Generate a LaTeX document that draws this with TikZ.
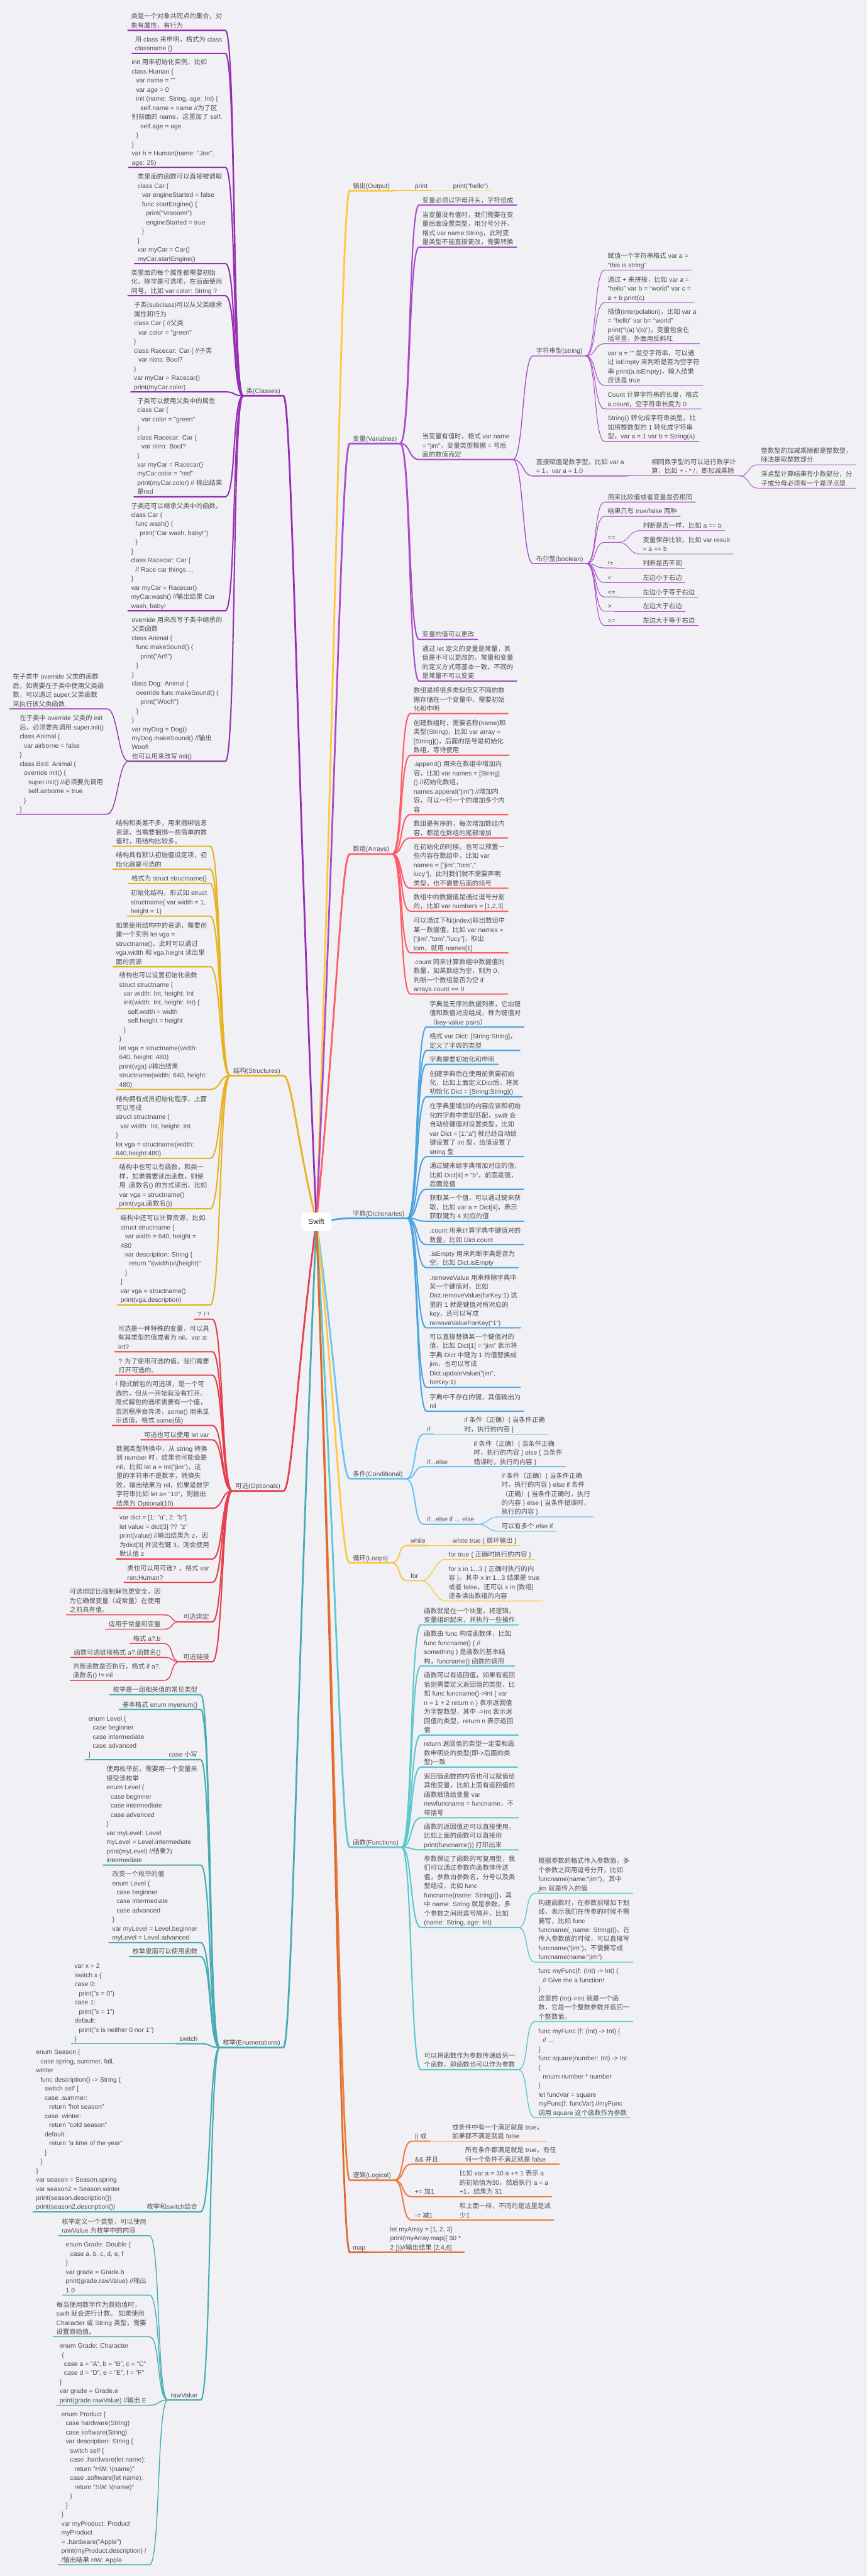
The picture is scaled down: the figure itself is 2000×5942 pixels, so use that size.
\documentclass[tikz,border=0pt]{standalone}
\usepackage{fontspec}
\setmainfont{Liberation Sans}
\newfontfamily\cjkfont{Noto Sans CJK SC}
% CJK characters switch to the CJK font
\newXeTeXintercharclass\cjkcls
\newcommand{\setcjkrange}[2]{\count255=#1\relax
  \loop\XeTeXcharclass\count255=\cjkcls\relax
  \ifnum\count255<#2\relax\advance\count255 by 1\repeat}
\setcjkrange{"3000}{"303F}
\setcjkrange{"4E00}{"9FFF}
\setcjkrange{"FF00}{"FFEF}
\XeTeXinterchartoks 0 \cjkcls={\cjkfont}
\XeTeXinterchartoks 4095 \cjkcls={\cjkfont}
\XeTeXinterchartoks \cjkcls 0={\normalfont}
\XeTeXinterchartoks \cjkcls 4095={\normalfont}
\XeTeXinterchartokenstate=1
\usetikzlibrary{calc}
\definecolor{bgpaper}{RGB}{240,240,245}
\definecolor{ink}{RGB}{78,78,84}
\definecolor{cClass}{RGB}{150,45,178}
\definecolor{cStruct}{RGB}{230,178,30}
\definecolor{cOpt}{RGB}{230,62,76}
\definecolor{cEnum}{RGB}{70,172,178}
\definecolor{cOut}{RGB}{255,200,60}
\definecolor{cVar}{RGB}{170,75,200}
\definecolor{cArr}{RGB}{255,92,104}
\definecolor{cDict}{RGB}{75,165,225}
\definecolor{cCond}{RGB}{110,195,245}
\definecolor{cLoop}{RGB}{255,200,60}
\definecolor{cFunc}{RGB}{92,200,206}
\definecolor{cLogic}{RGB}{238,125,60}
\definecolor{cMap}{RGB}{222,105,45}
\pgfdeclarelayer{paper}
\pgfdeclarelayer{links}
\pgfsetlayers{paper,links,main}
\newcommand{\swI}{\hspace*{2mm}}
\newcommand{\swtext}{\fontsize{8.54}{11.95}\selectfont}
\newcommand{\swhub}{\fontsize{9.7}{12}\selectfont}
% child links: curve to the child, then along its underline
\newcommand{\rlink}[3][lv2]{\draw[#1] (#2.south east) .. controls +(25,0) and +(-25,0) .. (#3.south west) -- (#3.south east);}
\newcommand{\llink}[3][lv2]{\draw[#1] (#2.south west) .. controls +(-25,0) and +(25,0) .. (#3.south east) -- (#3.south west);}
% trunks from the hub
\newcommand{\rtrunk}[1]{\draw[lv1] let \p1=(swift.center), \p2=(#1.south west) in
  (\p1) .. controls ({\x1+0.6*(\x2-\x1)},{\y1+0.55*(\y2-\y1)}) and ({\x2-0.25*(\x2-\x1)},\y2) .. (\p2) -- (#1.south east);}
\newcommand{\ltrunk}[1]{\draw[lv1] let \p1=(swift.center), \p2=(#1.south east) in
  (\p1) .. controls ({\x1+0.6*(\x2-\x1)},{\y1+0.55*(\y2-\y1)}) and ({\x2-0.25*(\x2-\x1)},\y2) .. (\p2) -- (#1.south west);}

\begin{document}
\begin{tikzpicture}[x=0.2mm, y=-0.2mm,
    every node/.style={font=\swtext, text=ink, align=left, inner xsep=1.4mm, inner ysep=0.7mm, text depth=0.4mm},
    rn/.style={anchor=south west},
    ln/.style={anchor=south east},
    lv1/.style={draw=br, line width=0.8mm, line cap=round},
    lv2/.style={draw=br, line width=0.6mm, line cap=round},
    lv3/.style={draw=br, line width=0.4mm, line cap=round},
    lv4/.style={draw=br, line width=0.3mm, line cap=round},
    lv5/.style={draw=br, line width=0.25mm, line cap=round},
    hub/.style={fill=white, rounded corners=1.6mm, minimum width=14mm, minimum height=8.4mm, font=\swhub, text=black!85, align=center}]

\begin{pgfonlayer}{paper}
  \fill[bgpaper] (0,0) rectangle (2000,5942);
\end{pgfonlayer}
\useasboundingbox (0,0) rectangle (2000,5942);

\node[hub] (swift) at (730,2818) {Swift};

% ---------- classes
\begin{scope}
  \colorlet{br}{cClass}
  \node[ln] (cls) at (654,913) {类(Classes)};
  \begin{pgfonlayer}{links}\ltrunk{cls}\end{pgfonlayer}
  \node[ln] (cl1) at (520,70) {类是一个对象共同点的集合，对\\象有属性，有行为};
  \node[ln] (cl2) at (520,123) {用 class 来申明，格式为 class\\classname \{\}};
  \node[ln] (cl3) at (520,386) {init 用来初始化实例，比如\\class Human \{\\\swI var name = ""\\\swI var age = 0\\\swI init (name: String, age: Int) \{\\\swI\swI self.name = name //为了区\\别前面的 name，这里加了 self.\\\swI\swI self.age = age\\\swI \}\\\}\\var h = Human(name: "Joe",\\age: 25)};
  \node[ln] (cl4) at (520,608) {类里面的函数可以直接被调取\\class Car \{\\\swI var engineStarted = false\\\swI func startEngine() \{\\\swI\swI print("Vrooom!")\\\swI\swI engineStarted = true\\\swI \}\\\}\\var myCar = Car()\\myCar.startEngine()};
  \node[ln] (cl5) at (520,682) {类里面的每个属性都需要初始\\化，除非是可选项，在后面使用\\问号，比如 var color: String ?};
  \node[ln] (cl6) at (520,904) {子类(subclass)可以从父类继承\\属性和行为\\class Car \{ //父类\\\swI var color = "green"\\\}\\class Racecar: Car \{ //子类\\\swI var nitro: Bool?\\\}\\var myCar = Racecar()\\print(myCar.color)};
  \node[ln] (cl7) at (520,1146) {子类可以使用父类中的属性\\class Car \{\\\swI var color = "green"\\\}\\class Racecar: Car \{\\\swI var nitro: Bool?\\\}\\var myCar = Racecar()\\myCar.color = "red"\\print(myCar.color) // 输出结果\\是red};
  \node[ln] (cl8) at (520,1409) {子类还可以继承父类中的函数。\\class Car \{\\\swI func wash() \{\\\swI\swI print("Car wash, baby!")\\\swI \}\\\}\\class Racecar: Car \{\\\swI // Race car things ...\\\}\\var myCar = Racecar()\\myCar.wash() //输出结果 Car\\wash, baby!};
  \node[ln] (cl9) at (520,1756) {override 用来改写子类中继承的\\父类函数\\class Animal \{\\\swI func makeSound() \{\\\swI\swI print("Arf!")\\\swI \}\\\}\\class Dog: Animal \{\\\swI override func makeSound() \{\\\swI\swI print("Woof!")\\\swI \}\\\}\\var myDog = Dog()\\myDog.makeSound() //输出\\Woof!\\也可以用来改写 init()};
  \node[ln] (cl9a) at (247,1635) {在子类中 override 父类的函数\\后，如需要在子类中使用父类函\\数，可以通过 super.父类函数\\来执行该父类函数};
  \node[ln] (cl9b) at (247,1878) {在子类中 override 父类的 init\\后，必须要先调用 super.init()\\class Animal \{\\\swI var airborne = false\\\}\\class Bird: Animal \{\\\swI override init() \{\\\swI\swI super.init() //必须要先调用\\\swI\swI self.airborne = true\\\swI \}\\\}};
  \foreach \c in {cl1,cl2,cl3,cl4,cl5,cl6,cl7,cl8,cl9} {\llink{cls}{\c}}
  \llink[lv3]{cl9}{cl9a} \llink[lv3]{cl9}{cl9b}
\end{scope}

% ---------- structures
\begin{scope}
  \colorlet{br}{cStruct}
  \node[ln] (stc) at (654,2481) {结构(Structures)};
  \begin{pgfonlayer}{links}\ltrunk{stc}\end{pgfonlayer}
  \node[ln] (st1) at (485,1952) {结构和类差不多，用来捆绑信息\\资源，当需要捆绑一些简单的数\\值时，用结构比较多。};
  \node[ln] (st2) at (485,2005) {结构具有默认初始值设定项，初\\始化器是可选的};
  \node[ln] (st3) at (485,2038) {格式为 struct structname\{\}};
  \node[ln] (st4) at (485,2113) {初始化结构，形式如 struct\\structname\{ var width = 1,\\height = 1\}};
  \node[ln] (st5) at (485,2230) {如果使用结构中的资源，需要创\\建一个实例 let vga =\\structname()，此时可以通过\\vga.width 和 vga.height 读出里\\面的资源};
  \node[ln] (st6) at (485,2513) {结构也可以设置初始化函数\\struct structname \{\\\swI var width: Int, height: Int\\\swI init(width: Int, height: Int) \{\\\swI\swI self.width = width\\\swI\swI self.height = height\\\swI \}\\\}\\let vga = structname(width:\\640, height: 480)\\print(vga) //输出结果\\structname(width: 640, height:\\480)};
  \node[ln] (st7) at (485,2672) {结构拥有成员初始化程序，上面\\可以写成\\struct structname \{\\\swI var width: Int, height: Int\\\}\\let vga = structname(width:\\640,height:480)};
  \node[ln] (st8) at (485,2788) {结构中也可以有函数，和类一\\样，如果需要读出函数，则使\\用 .函数名() 的方式读出，比如\\var vga = structname()\\print(vga.函数名())};
  \node[ln] (st9) at (485,3010) {结构中还可以计算资源，比如.\\struct structname \{\\\swI var width = 640, height =\\480\\\swI var description: String \{\\\swI\swI return "\textbackslash(width)x\textbackslash(height)"\\\swI \}\\\}\\var vga = structname()\\print(vga.description)};
  \foreach \c in {st1,st2,st3,st4,st5,st6,st7,st8,st9} {\llink{stc}{\c}}
\end{scope}

% ---------- optionals
\begin{scope}
  \colorlet{br}{cOpt}
  \node[ln] (opt) at (654,3439) {可选(Optionals)};
  \begin{pgfonlayer}{links}\ltrunk{opt}\end{pgfonlayer}
  \node[ln] (op1) at (490,3043) {? / !};
  \node[ln] (op2) at (490,3118) {可选是一种特殊的变量，可以具\\有其类型的值或者为 nil。var a:\\Int?};
  \node[ln] (op3) at (490,3172) {? 为了使用可选的值，我们需要\\打开可选的。};
  \node[ln] (op4) at (490,3288) {! 隐式解包的可选项，是一个可\\选的，但从一开始就没有打开。\\隐式解包的选项需要有一个值，\\否则程序会奔溃，some() 用来显\\示该值，格式 some(值)};
  \node[ln] (op5) at (490,3321) {可选也可以使用 let var};
  \node[ln] (op6) at (490,3479) {数据类型转换中，从 string 转换\\到 number 时，结果也可能会是\\nil，比如 let a = Int(“jim”)，这\\里的字符串不是数字，转换失\\败，输出结果为 nil，如果是数字\\字符串比如 let a= “10”，则输出\\结果为 Optional(10)};
  \node[ln] (op7) at (490,3596) {var dict = [1: "a", 2: "b"]\\let value = dict[3] ?? "z"\\print(value) //输出结果为 z，因\\为dict[3] 并没有键 3，则会使用\\默认值 z};
  \node[ln] (op8) at (490,3650) {类也可以用可选? ，格式 var\\ren:Human?};
  \node[ln] (op9) at (490,3741) {可选绑定};
  \node[ln] (op9a) at (378,3725) {可选绑定比强制解包更安全，因\\为它确保变量（或常量）在使用\\之前具有值。};
  \node[ln] (op9b) at (378,3758) {适用于常量和变量};
  \node[ln] (op10) at (490,3833) {可选链接};
  \node[ln] (op10a) at (378,3791) {格式 a?.b};
  \node[ln] (op10b) at (378,3823) {函数可选链接格式 a?.函数名()};
  \node[ln] (op10c) at (378,3876) {判断函数是否执行，格式 if a?.\\函数名() != nil};
  \foreach \c in {op1,op2,op3,op4,op5,op6,op7,op8,op9,op10} {\llink{opt}{\c}}
  \llink[lv3]{op9}{op9a} \llink[lv3]{op9}{op9b}
  \foreach \c in {op10a,op10b,op10c} {\llink[lv3]{op10}{\c}}
\end{scope}

% ---------- enumerations
\begin{scope}
  \colorlet{br}{cEnum}
  \node[ln] (enm) at (654,4723) {枚举(Enumerations)};
  \begin{pgfonlayer}{links}\ltrunk{enm}\end{pgfonlayer}
  \node[ln] (en1) at (463,3909) {枚举是一组相关值的常见类型};
  \node[ln] (en2) at (463,3943) {基本格式 enum myenum\{\}};
  \node[ln] (en3) at (463,4059) {case 小写};
  \node[ln] (en3a) at (340,4059) {enum Level \{\\\swI case beginner\\\swI case intermediate\\\swI case advanced\\\}};
  \node[ln] (en4) at (463,4302) {使用枚举前，需要用一个变量来\\接受该枚举\\enum Level \{\\\swI case beginner\\\swI case intermediate\\\swI case advanced\\\}\\var myLevel: Level\\myLevel = Level.intermediate\\print(myLevel) //结果为\\intermediate};
  \node[ln] (en5) at (463,4481) {改变一个枚举的值\\enum Level \{\\\swI case beginner\\\swI case intermediate\\\swI case advanced\\\}\\var myLevel = Level.beginner\\myLevel = Level.advanced};
  \node[ln] (en6) at (463,4513) {枚举里面可以使用函数};
  \node[ln] (en7) at (463,4714) {switch};
  \node[ln] (en7a) at (362,4714) {var x = 2\\switch x \{\\case 0:\\\swI print("x = 0")\\case 1:\\\swI print("x = 1")\\default:\\\swI print("x is neither 0 nor 1")\\\}};
  \node[ln] (en8) at (463,5102) {枚举和switch结合};
  \node[ln] (en8a) at (290,5102) {enum Season \{\\\swI case spring, summer, fall,\\winter\\\swI func description() -> String \{\\\swI\swI switch self \{\\\swI\swI case .summer:\\\swI\swI\swI return "hot season"\\\swI\swI case .winter:\\\swI\swI\swI return "cold season"\\\swI\swI default:\\\swI\swI\swI return "a time of the year"\\\swI\swI \}\\\swI \}\\\}\\var season = Season.spring\\var season2 = Season.winter\\print(season.description())\\print(season2.description())};
  \node[ln] (en9) at (463,5536) {rawValue};
  \node[ln] (en9a) at (345,5157) {枚举定义一个类型，可以使用\\rawValue 为枚举中的内容};
  \node[ln] (en9b) at (345,5294) {enum Grade: Double \{\\\swI case a, b, c, d, e, f\\\}\\var grade = Grade.b\\print(grade.rawValue) //输出\\1.0};
  \node[ln] (en9c) at (345,5390) {每当使用数字作为原始值时，\\swift 就会进行计数。 如果使用\\Character 或 String 类型，需要\\设置原始值。};
  \node[ln] (en9d) at (345,5548) {enum Grade: Character\\\hspace*{1mm}\{\\\swI case a = "A", b = "B", c = "C"\\\swI case d = "D", e = "E", f = "F"\\\}\\var grade = Grade.e\\print(grade.rawValue) //输出 E};
  \node[ln] (en9e) at (345,5916) {enum Product \{\\\swI case hardware(String)\\\swI case software(String)\\\swI var description: String \{\\\swI\swI switch self \{\\\swI\swI case .hardware(let name):\\\swI\swI\swI return "HW: \textbackslash(name)"\\\swI\swI case .software(let name):\\\swI\swI\swI return "SW: \textbackslash(name)"\\\swI\swI \}\\\swI \}\\\}\\var myProduct: Product\\myProduct\\= .hardware("Apple")\\print(myProduct.description) /\\/输出结果 HW: Apple};
  \foreach \c in {en1,en2,en3,en4,en5,en6,en7,en8,en9} {\llink{enm}{\c}}
  \llink[lv3]{en3}{en3a} \llink[lv3]{en7}{en7a} \llink[lv3]{en8}{en8a}
  \foreach \c in {en9a,en9b,en9c,en9d,en9e} {\llink[lv3]{en9}{\c}}
\end{scope}

% ---------- output
\begin{scope}
  \colorlet{br}{cOut}
  \node[rn] (out) at (807,440) {输出(Output)};
  \begin{pgfonlayer}{links}\rtrunk{out}\end{pgfonlayer}
  \node[rn] (outp) at (950,440) {print};
  \node[rn] (outh) at (1038,440) {print(“hello”)};
  \rlink{out}{outp} \rlink[lv3]{outp}{outh}
\end{scope}

% ---------- variables
\begin{scope}
  \colorlet{br}{cVar}
  \node[rn] (var) at (807,1023) {变量(Variables)};
  \begin{pgfonlayer}{links}\rtrunk{var}\end{pgfonlayer}
  \node[rn] (va1) at (967,473) {变量必须以字母开头，字符组成};
  \node[rn] (va2) at (967,570) {当变量没有值时，我们需要在变\\量后面设置类型，用分号分开，\\格式 var name:String，此时变\\量类型不能直接更改，需要转换};
  \node[rn] (va3) at (967,1060) {当变量有值时，格式 var name\\= “jim”，变量类型根据 = 号后\\面的数值而定};
  \node[rn] (va4) at (967,1475) {变量的值可以更改};
  \node[rn] (va5) at (967,1571) {通过 let 定义的变量是常量，其\\值是不可以更改的，常量和变量\\的定义方式等基本一致，不同的\\是常量不可以变更};
  \node[rn] (str) at (1230,821) {字符串型(string)};
  \node[rn] (str1) at (1395,623) {赋值一个字符串格式 var a =\\“this is string”};
  \node[rn] (str2) at (1395,698) {通过 + 来拼接，比如 var a =\\“hello” var b = “world” var c =\\a + b print(c)};
  \node[rn] (str3) at (1395,793) {插值(interpolation)，比如 var a\\= “hello” var b= “world”\\print(“\textbackslash(a) \textbackslash(b)”)，变量包含在\\括号里，外面用反斜杠};
  \node[rn] (str4) at (1395,889) {var a = “” 是空字符串，可以通\\过 isEmpty 来判断是否为空字符\\串 print(a.isEmpty)，输入结果\\应该是 true};
  \node[rn] (str5) at (1395,943) {Count 计算字符串的长度，格式\\a.count，空字符串长度为 0};
  \node[rn] (str6) at (1395,1018) {String() 转化成字符串类型，比\\如将整数型的 1 转化成字符串\\型，var a = 1 var b = String(a)};
  \node[rn] (num) at (1230,1098) {直接赋值是数字型，比如 var a\\= 1，var a = 1.0};
  \node[rn] (num1) at (1496,1098) {相同数字型的可以进行数学计\\算，比如 + - * /，即加减乘除};
  \node[rn] (num1a) at (1749,1072) {整数型的加减乘除都是整数型，\\除法是取整数部分};
  \node[rn] (num1b) at (1749,1126) {浮点型计算结果有小数部分，分\\子或分母必须有一个是浮点型};
  \node[rn] (boo) at (1230,1300) {布尔型(boolean)};
  \node[rn] (boo1) at (1395,1158) {用来比较值或者变量是否相同};
  \node[rn] (boo2) at (1395,1191) {结果只有 true/false 两种};
  \node[rn] (boo3) at (1395,1251) {==};
  \node[rn] (boo3a) at (1476,1224) {判断是否一样，比如 a == b};
  \node[rn] (boo3b) at (1476,1278) {变量保存比较，比如 var result\\= a == b};
  \node[rn] (boo4) at (1395,1310) {!=};
  \node[rn] (boo4a) at (1476,1310) {判断是否不同};
  \node[rn] (boo5) at (1395,1344) {<};
  \node[rn] (boo5a) at (1476,1344) {左边小于右边};
  \node[rn] (boo6) at (1395,1377) {<=};
  \node[rn] (boo6a) at (1476,1377) {左边小于等于右边};
  \node[rn] (boo7) at (1395,1410) {>};
  \node[rn] (boo7a) at (1476,1410) {左边大于右边};
  \node[rn] (boo8) at (1395,1443) {>=};
  \node[rn] (boo8a) at (1476,1443) {左边大于等于右边};
  \foreach \c in {va1,va2,va3,va4,va5} {\rlink{var}{\c}}
  \foreach \c in {str,num,boo} {\rlink[lv3]{va3}{\c}}
  \foreach \c in {str1,str2,str3,str4,str5,str6} {\rlink[lv4]{str}{\c}}
  \rlink[lv4]{num}{num1}
  \rlink[lv5]{num1}{num1a} \rlink[lv5]{num1}{num1b}
  \foreach \c in {boo1,boo2,boo3,boo4,boo5,boo6,boo7,boo8} {\rlink[lv4]{boo}{\c}}
  \rlink[lv5]{boo3}{boo3a} \rlink[lv5]{boo3}{boo3b}
  \foreach \c in {4,5,6,7,8} {\rlink[lv5]{boo\c}{boo\c a}}
\end{scope}

% ---------- arrays
\begin{scope}
  \colorlet{br}{cArr}
  \node[rn] (arr) at (807,1970) {数组(Arrays)};
  \begin{pgfonlayer}{links}\rtrunk{arr}\end{pgfonlayer}
  \node[rn] (ar1) at (947,1646) {数组是将很多类似但又不同的数\\据存储在一个变量中，需要初始\\化和申明};
  \node[rn] (ar2) at (947,1742) {创建数组时，需要名称(name)和\\类型(String)，比如 var array =\\{}[String]()，后面的括号是初始化\\数组，等待使用};
  \node[rn] (ar3) at (947,1879) {.append() 用来在数组中增加内\\容，比如 var names = [String]\\() //初始化数组，\\names.append(“jim”) //增加内\\容，可以一行一个的增加多个内\\容};
  \node[rn] (ar4) at (947,1933) {数组是有序的，每次增加数组内\\容，都是在数组的尾部增加};
  \node[rn] (ar5) at (947,2049) {在初始化的时候，也可以预置一\\些内容在数组中，比如 var\\names = [“jim”,”tom”,”\\lucy”]，此时我们就不需要声明\\类型，也不需要后面的括号};
  \node[rn] (ar6) at (947,2102) {数组中的数据值是通过逗号分割\\的，比如 var numbers = [1,2,3]};
  \node[rn] (ar7) at (947,2198) {可以通过下标(index)取出数组中\\某一数据值，比如 var names =\\{}[“jim”,”tom”,”lucy”]，取出\\tom，就用 names[1]};
  \node[rn] (ar8) at (947,2293) {.count 同来计算数组中数据值的\\数量，如果数组为空，则为 0，\\判断一个数组是否为空 if\\arrays.count == 0};
  \foreach \c in {ar1,ar2,ar3,ar4,ar5,ar6,ar7,ar8} {\rlink{arr}{\c}}
\end{scope}

% ---------- dictionaries
\begin{scope}
  \colorlet{br}{cDict}
  \node[rn] (dic) at (807,2810) {字典(Dictionaries)};
  \begin{pgfonlayer}{links}\rtrunk{dic}\end{pgfonlayer}
  \node[rn] (di1) at (984,2369) {字典是无序的数据列表，它由键\\值和数值对应组成，称为键值对\\（key-value pairs）};
  \node[rn] (di2) at (984,2423) {格式 var Dict: [String:String]，\\定义了字典的类型};
  \node[rn] (di3) at (984,2455) {字典需要初始化和申明};
  \node[rn] (di4) at (984,2530) {创建字典后在使用前需要初始\\化，比如上面定义Dict后，将其\\初始化 Dict = [String:String]()};
  \node[rn] (di5) at (984,2668) {在字典里增加的内容应该和初始\\化的字典中类型匹配，swift 会\\自动给键值对设置类型，比如\\var Dict = [1:”a”] 就已经自动给\\键设置了 int 型，给值设置了\\string 型};
  \node[rn] (di6) at (984,2743) {通过键来给字典增加对应的值，\\比如 Dict[4] = “b”，前面是键，\\后面是值};
  \node[rn] (di7) at (984,2817) {获取某一个值，可以通过键来获\\取，比如 var a = Dict[4]，表示\\获取键为 4 对应的值};
  \node[rn] (di8) at (984,2871) {.count 用来计算字典中键值对的\\数量，比如 Dict.count};
  \node[rn] (di9) at (984,2924) {.isEmpty 用来判断字典是否为\\空，比如 Dict.isEmpty};
  \node[rn] (di10) at (984,3063) {.removeValue 用来移除字典中\\某一个键值对，比如\\Dict.removeValue(forKey:1) 这\\里的 1 就是键值对所对应的\\key，还可以写成\\removeValueForKey(“1”)};
  \node[rn] (di11) at (984,3200) {可以直接替换某一个键值对的\\值，比如 Dict[1] = “jim” 表示将\\字典 Dict 中键为 1 的值替换成\\jim，也可以写成\\Dict.updateValue(“jim”,\\forKey:1)};
  \node[rn] (di12) at (984,3255) {字典中不存在的键，其值输出为\\nil};
  \foreach \c in {di1,di2,di3,di4,di5,di6,di7,di8,di9,di10,di11,di12} {\rlink{dic}{\c}}
\end{scope}

% ---------- conditional
\begin{scope}
  \colorlet{br}{cCond}
  \node[rn] (cnd) at (807,3411) {条件(Conditional)};
  \begin{pgfonlayer}{links}\rtrunk{cnd}\end{pgfonlayer}
  \node[rn] (cd1) at (978,3308) {if};
  \node[rn] (cd1a) at (1064,3308) {if 条件（正确）\{ 当条件正确\\时，执行的内容 \}};
  \node[rn] (cd2) at (978,3383) {if...else};
  \node[rn] (cd2a) at (1086,3383) {if 条件（正确）\{ 当条件正确\\时，执行的内容 \} else \{ 当条件\\错误时，执行的内容 \}};
  \node[rn] (cd3) at (978,3516) {if...else if ... else};
  \node[rn] (cd3a) at (1150,3499) {if 条件（正确）\{ 当条件正确\\时，执行的内容 \} else if 条件\\（正确）\{ 当条件正确时，执行\\的内容 \} else \{ 当条件错误时，\\执行的内容 \}};
  \node[rn] (cd3b) at (1150,3532) {可以有多个 else if};
  \foreach \c in {cd1,cd2,cd3} {\rlink{cnd}{\c}}
  \rlink[lv3]{cd1}{cd1a} \rlink[lv3]{cd2}{cd2a}
  \rlink[lv3]{cd3}{cd3a} \rlink[lv3]{cd3}{cd3b}
\end{scope}

% ---------- loops
\begin{scope}
  \colorlet{br}{cLoop}
  \node[rn] (lop) at (807,3605) {循环(Loops)};
  \begin{pgfonlayer}{links}\rtrunk{lop}\end{pgfonlayer}
  \node[rn] (lo1) at (940,3565) {while};
  \node[rn] (lo1a) at (1037,3565) {white true \{ 循环输出 \}};
  \node[rn] (lo2) at (940,3646) {for};
  \node[rn] (lo2a) at (1028,3597) {for true \{ 正确时执行的内容 \}};
  \node[rn] (lo2b) at (1028,3693) {for x in 1...3 \{ 正确时执行的内\\容 \}，其中 x in 1...3 结果是 true\\或者 false，还可以 x in [数组]\\逐条读出数组的内容};
  \rlink{lop}{lo1} \rlink{lop}{lo2}
  \rlink[lv3]{lo1}{lo1a} \rlink[lv3]{lo2}{lo2a} \rlink[lv3]{lo2}{lo2b}
\end{scope}

% ---------- functions
\begin{scope}
  \colorlet{br}{cFunc}
  \node[rn] (fun) at (807,4261) {函数(Functions)};
  \begin{pgfonlayer}{links}\rtrunk{fun}\end{pgfonlayer}
  \node[rn] (fu1) at (971,3748) {函数就是在一个块里，将逻辑，\\变量组织起来，并执行一些操作};
  \node[rn] (fu2) at (971,3843) {函数由 func 构成函数体，比如\\func funcname() \{ //\\something \} 是函数的基本结\\构，funcname() 函数的调用};
  \node[rn] (fu3) at (971,4002) {函数可以有返回值，如果有返回\\值则需要定义返回值的类型，比\\如 func funcname()->Int \{ var\\n = 1 + 2 return n \} 表示返回值\\为字整数型，其中 ->Int 表示返\\回值的类型，return n 表示返回\\值};
  \node[rn] (fu4) at (971,4076) {return 返回值的类型一定要和函\\数申明处的类型(即->后面的类\\型)一致};
  \node[rn] (fu5) at (971,4193) {返回值函数的内容也可以赋值给\\其他变量，比如上面有返回值的\\函数赋值给变量 var\\newfuncname = funcname，不\\带括号};
  \node[rn] (fu6) at (971,4267) {函数的返回值还可以直接使用，\\比如上面的函数可以直接用\\print(funcname()) 打印出来};
  \node[rn] (fu7) at (971,4446) {参数保证了函数的可复用型，我\\们可以通过参数向函数体传送\\值，参数由参数名，分号以及类\\型组成，比如 func\\funcname(name: String)\{\}，其\\中 name: String 就是参数，多\\个参数之间用逗号隔开，比如\\(name: String, age: Int)};
  \node[rn] (fu7a) at (1235,4367) {根据参数的格式传入参数值，多\\个参数之间用逗号分开，比如\\funcname(name:“jim”)，其中\\jim 就是传入的值};
  \node[rn] (fu7b) at (1235,4526) {构建函数时，在参数前增加下划\\线，表示我们在传参的时候不需\\要写，比如 func\\funcname(\_name: String)\{\}，在\\传入参数值的时候，可以直接写\\funcname(“jim”)，不需要写成\\funcname(name:”jim”)};
  \node[rn] (fu8) at (971,4774) {可以将函数作为参数传递给另一\\个函数，即函数也可以作为参数};
  \node[rn] (fu8a) at (1235,4663) {func myFunc(f: (Int) -> Int) \{\\\swI // Give me a function!\\\}\\这里的 (Int)->Int 就是一个函\\数，它是一个整数参数并返回一\\个整数值。};
  \node[rn] (fu8b) at (1235,4885) {func myFunc (f: (Int) -> Int) \{\\\swI // ...\\\}\\func square(number: Int) -> Int\\\{\\\swI return number * number\\\}\\let funcVar = square\\myFunc(f: funcVar) //myFunc\\调用 square 这个函数作为参数};
  \foreach \c in {fu1,fu2,fu3,fu4,fu5,fu6,fu7,fu8} {\rlink{fun}{\c}}
  \rlink[lv3]{fu7}{fu7a} \rlink[lv3]{fu7}{fu7b}
  \rlink[lv3]{fu8}{fu8a} \rlink[lv3]{fu8}{fu8b}
\end{scope}

% ---------- logical
\begin{scope}
  \colorlet{br}{cLogic}
  \node[rn] (lgc) at (807,5029) {逻辑(Logical)};
  \begin{pgfonlayer}{links}\rtrunk{lgc}\end{pgfonlayer}
  \node[rn] (lg1) at (950,4939) {|| 或};
  \node[rn] (lg1a) at (1036,4939) {或条件中有一个满足就是 true，\\如果都不满足就是 false};
  \node[rn] (lg2) at (950,4992) {\&\& 并且};
  \node[rn] (lg2a) at (1066,4992) {所有条件都满足就是 true，有任\\何一个条件不满足就是 false};
  \node[rn] (lg3) at (950,5067) {+= 加1};
  \node[rn] (lg3a) at (1053,5067) {比如 var a = 30 a += 1 表示 a\\的初始值为30，然后执行 a = a\\+1，结果为 31};
  \node[rn] (lg4) at (950,5121) {-= 减1};
  \node[rn] (lg4a) at (1053,5121) {和上面一样，不同的是这里是减\\少1};
  \foreach \c in {1,2,3,4} {\rlink{lgc}{lg\c} \rlink[lv3]{lg\c}{lg\c a}}
\end{scope}

% ---------- map
\begin{scope}
  \colorlet{br}{cMap}
  \node[rn] (map) at (807,5195) {map};
  \begin{pgfonlayer}{links}\rtrunk{map}\end{pgfonlayer}
  \node[rn] (mapa) at (893,5195) {let myArray = [1, 2, 3]\\print(myArray.map(\{ \$0 *\\2 \}))//输出结果 [2,4,6]};
  \rlink{map}{mapa}
\end{scope}

\end{tikzpicture}
\end{document}
